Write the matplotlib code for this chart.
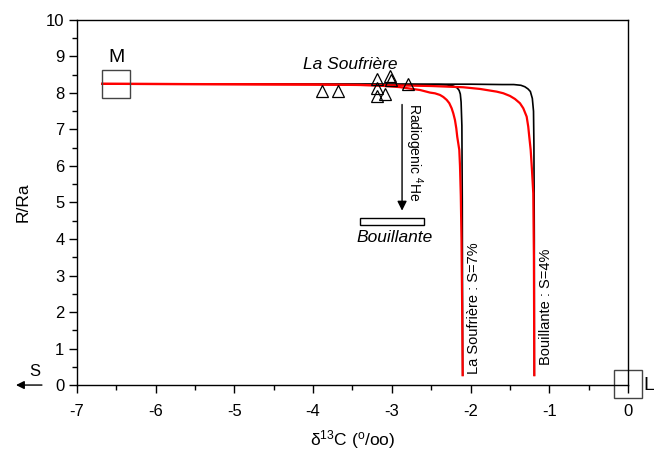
import matplotlib
matplotlib.use('Agg')
import matplotlib.pyplot as plt
from matplotlib.patches import Rectangle
from matplotlib.ticker import MultipleLocator

plt.rcParams['font.family'] = ['Liberation Sans', 'DejaVu Sans']
plt.rcParams['mathtext.fontset'] = 'custom'
plt.rcParams['mathtext.rm'] = 'Liberation Sans'
plt.rcParams['mathtext.it'] = 'Liberation Sans:italic'
plt.rcParams['axes.unicode_minus'] = False

# Mixing curves (δ13C, R/Ra)
black_ls_x = [-6.68, -5.0, -4.0, -3.0, -2.6, -2.40, -2.30, -2.22, -2.17, -2.145, -2.13, -2.12, -2.11, -2.105, -2.10]
black_ls_y = [8.25, 8.25, 8.24, 8.24, 8.23, 8.23, 8.22, 8.19, 8.14, 8.07, 7.97, 7.75, 7.10, 5.0, 0.27]

red_ls_x = [-6.68, -5.0, -4.0, -3.4, -3.15, -2.9, -2.64, -2.515, -2.452, -2.388, -2.346, -2.303, -2.270,
            -2.240, -2.219, -2.198, -2.181, -2.169, -2.156, -2.143, -2.134, -2.124, -2.115, -2.107, -2.10]
red_ls_y = [8.25, 8.24, 8.23, 8.22, 8.20, 8.16, 8.08, 8.01, 7.99, 7.945, 7.89, 7.81, 7.72,
            7.58, 7.44, 7.26, 7.03, 6.80, 6.62, 6.44, 6.0, 5.2, 4.0, 2.2, 0.27]

black_bo_x = [-6.68, -4.0, -2.0, -1.60, -1.45, -1.36, -1.31, -1.27, -1.24, -1.215, -1.20, -1.195, -1.19, -1.19]
black_bo_y = [8.25, 8.24, 8.24, 8.23, 8.23, 8.21, 8.17, 8.11, 8.04, 7.85, 7.50, 6.60, 4.0, 0.27]

red_bo_x = [-6.68, -4.0, -3.0, -2.5, -2.092, -1.880, -1.668, -1.584, -1.499, -1.436, -1.372, -1.330,
            -1.287, -1.267, -1.254, -1.236, -1.220, -1.203, -1.195, -1.19]
red_bo_y = [8.25, 8.23, 8.21, 8.19, 8.156, 8.11, 8.036, 7.992, 7.918, 7.836, 7.718, 7.581,
            7.351, 7.077, 6.803, 6.438, 5.90, 5.25, 3.5, 0.27]

# La Soufrière samples
samp_x = [-3.89, -3.69, -3.19, -3.19, -3.19, -3.09, -3.02, -3.01, -2.80]
samp_y = [8.06, 8.06, 8.37, 8.13, 7.92, 7.97, 8.47, 8.36, 8.25]

# end-members
mantle = (-6.5, 8.25)
limestone = (0.0, 0.03)

# Bouillante range
bouil_x = (-3.40, -2.59)
bouil_y = (4.38, 4.58)

fig = plt.figure(figsize=(6.54, 4.53), dpi=100)
ax = fig.add_axes([0.1177, 0.150, 0.8425, 0.806])

ax.plot(black_ls_x, black_ls_y, color='black', lw=1.2)
ax.plot(black_bo_x, black_bo_y, color='black', lw=1.2)
ax.plot(red_ls_x, red_ls_y, color='red', lw=1.6)
ax.plot(red_bo_x, red_bo_y, color='red', lw=1.6)

ax.plot(samp_x, samp_y, '^', ms=9, mfc='none', mec='black', mew=0.9, ls='none')

ax.plot(*mantle, 's', ms=20, mfc='none', mec='#444444', mew=1.0)
ax.plot(*limestone, 's', ms=20, mfc='none', mec='#444444', mew=1.0, clip_on=False)
ax.text(-6.5, 8.96, 'M', fontsize=14, ha='center', va='center')
ax.text(0.2, 0.0, 'L', fontsize=14, ha='left', va='center')

ax.add_patch(Rectangle((bouil_x[0], bouil_y[0]), bouil_x[1] - bouil_x[0], bouil_y[1] - bouil_y[0],
                       fill=False, ec='black', lw=1.0))
ax.text(-2.97, 4.03, 'Bouillante', fontsize=12.5, style='italic', ha='center', va='center')
ax.text(-3.53, 8.79, 'La Soufrière', fontsize=12.5, style='italic', ha='center', va='center')

# radiogenic arrow
ax.annotate('', xy=(-2.87, 4.70), xytext=(-2.87, 7.76),
            arrowprops=dict(arrowstyle='-|>', color='black', lw=1.0, mutation_scale=14))
ax.text(-2.72, 6.38, 'Radiogenic $^{4}$He', fontsize=10, rotation=-90, ha='center', va='center')

ax.text(-1.955, 2.11, 'La Soufrière : S=7%', fontsize=10.5, rotation=90, ha='center', va='center')
ax.text(-1.04, 2.15, 'Bouillante : S=4%', fontsize=10.5, rotation=90, ha='center', va='center')

# S arrow outside the axes
ax.annotate('', xy=(-7.81, 0), xytext=(-7.41, 0), annotation_clip=False,
            arrowprops=dict(arrowstyle='-|>', color='black', lw=1.0, mutation_scale=12))
ax.text(-7.53, 0.36, 'S', fontsize=12, ha='center', va='center', clip_on=False)

ax.set_xlim(-7, 0)
ax.set_ylim(0, 10)
ax.xaxis.set_major_locator(MultipleLocator(1))
ax.xaxis.set_minor_locator(MultipleLocator(0.5))
ax.yaxis.set_major_locator(MultipleLocator(1))
ax.yaxis.set_minor_locator(MultipleLocator(0.5))
ax.tick_params(which='major', direction='out', length=6, width=1.0, labelsize=12)
ax.tick_params(which='minor', direction='out', length=3.5, width=1.0)
ax.tick_params(axis='x', which='major', pad=8)
ax.tick_params(axis='y', which='major', pad=3)
for s in ax.spines.values():
    s.set_linewidth(1.0)

ax.set_xlabel('δ$^{13}$C ($^{\\rm o}$/oo)', fontsize=12.5, labelpad=6)
ax.set_ylabel('R/Ra', fontsize=12.5, labelpad=11)

fig.savefig('out.png', dpi=100)
